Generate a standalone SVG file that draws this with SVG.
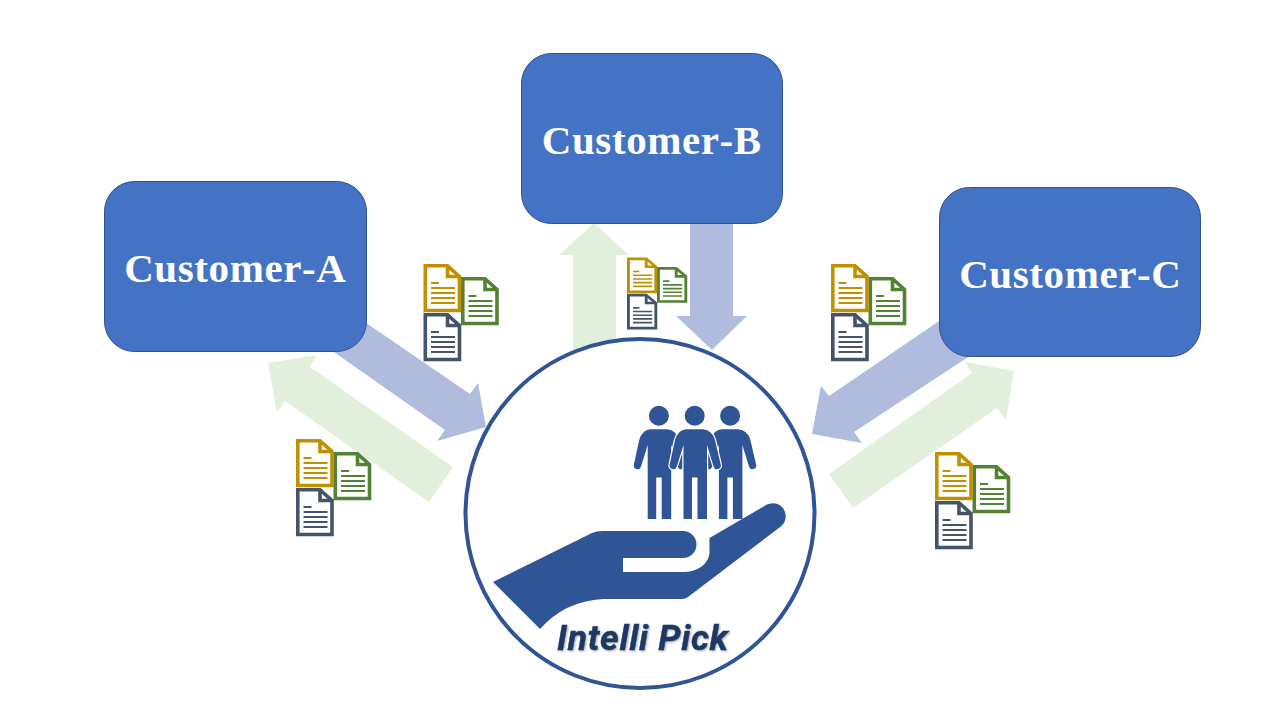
<svg xmlns="http://www.w3.org/2000/svg" xmlns:xlink="http://www.w3.org/1999/xlink" width="1280" height="720" viewBox="0 0 1280 720">
<style>
.box{fill:#4472C4;stroke:#2F528F;stroke-width:1}
.lbl{font-family:"Liberation Serif","Times New Roman",serif;font-weight:700;font-size:41px;fill:#fff;text-anchor:middle;font-kerning:none;letter-spacing:0.6px}
.blue{fill:#AFBCDE}
.green{fill:#E2EFDA}
.hand{fill:#2F5597}
.pg{fill:#fff;stroke-width:3.6}
.ln{fill:none;stroke-width:2.2}
.y{stroke:#BF9000}.g{stroke:#548235}.s{stroke:#44546A}
</style>
<defs>
<filter id="sh" x="-5%" y="-20%" width="110%" height="140%"><feDropShadow dx="1" dy="1" stdDeviation="1" flood-color="#000" flood-opacity="0.35"/></filter>
<g id="doc">
<path class="pg" d="M1.800 1.800H24L36 12.500V46.500H1.800Z"/>
<path class="pg" d="M24 1.800V12.500H36" style="fill:none"/>
<path class="ln" d="M7.500 19H15.500M7.500 24H31.500M7.500 29H31.500M7.500 34H31.500M7.500 39H31.500"/>
</g>
<g id="docs">
<use xlink:href="#doc" href="#doc" class="g" x="37.500" y="13"/>
<use xlink:href="#doc" href="#doc" class="s" x="0" y="49"/>
<use xlink:href="#doc" href="#doc" class="y" x="0" y="0"/>
</g>
<g id="person">
<circle cx="694.700" cy="415.700" r="10"/>
<path d="M686 429.300H703Q712 430 715 440L720.700 464.500A3.600 3.600 0 0 1 713.600 466.500L707 445V519H697.500V477.500H692V519H683.500V445L676.800 466.500A3.600 3.600 0 0 1 669.700 464.500L675 440Q678 430 686 429.300Z" stroke="#fff" stroke-width="2.500" paint-order="stroke"/>
</g>
</defs>
<rect width="1280" height="720" fill="#fff"/>
<g id="connectors">
<polygon id="a-in" class="blue" points="337,303 470,394 478,383 486,427 437,441 445,430 304,331"/>
<polygon id="a-out" class="green" points="453,467 429,502 285,401 277,413 268,363 317,355 310,367"/>
<polygon id="b-out" class="green" points="573,380 573,255 559,255 594,223 629,255 616,255 616,380"/>
<polygon id="b-in" class="blue" points="690,215 733,215 733,316 747,316 712,350 676,316 690,316"/>
<polygon id="c-in" class="blue" points="970,300 829,396 821,386 812,434 862,443 854,432 991,342"/>
<polygon id="c-out" class="green" points="829,474 853,508 997,408 1006,420 1014,371 965,362 972,373"/>
</g>
<g id="customer-a"><rect class="box" x="104.500" y="181.500" width="262" height="170" rx="30"/><text class="lbl" x="235.300" y="281.500">Customer-A</text></g>
<g id="customer-b"><rect class="box" x="521.500" y="53.500" width="261" height="170" rx="30"/><text class="lbl" x="651.800" y="153.500">Customer-B</text></g>
<g id="customer-c"><rect class="box" x="939.500" y="187.500" width="261" height="169" rx="30"/><text class="lbl" x="1070.300" y="287.500">Customer-C</text></g>
<g id="docs-1"><use xlink:href="#docs" href="#docs" transform="translate(423.500 264)"/></g>
<g id="docs-2"><use xlink:href="#docs" href="#docs" transform="translate(296 439)"/></g>
<g id="docs-3"><use xlink:href="#docs" href="#docs" transform="translate(627 257.500) scale(0.8 0.74)"/></g>
<g id="docs-4"><use xlink:href="#docs" href="#docs" transform="translate(831 264)"/></g>
<g id="docs-5"><use xlink:href="#docs" href="#docs" transform="translate(935 452)"/></g>
<g id="intelli-pick">
<circle cx="640" cy="513.500" r="174.500" fill="#fff" stroke="#2F5597" stroke-width="4"/>
<g class="hand">
<use xlink:href="#person" href="#person" x="-35.800"/>
<use xlink:href="#person" href="#person" x="35.400"/>
<use xlink:href="#person" href="#person"/>
<path d="M493 582L592 533Q597 531 602 531H683A13.500 13.500 0 0 1 683 558H623V572H683A26 20 0 0 0 709.500 553V538L766.500 504.800A13 13 0 0 1 780.800 526.400L688 597Q685 599 682 599H603Q565 601 540 629Z"/>
</g>
<text x="557" y="650" font-family="Roboto,'Liberation Sans',sans-serif" font-weight="700" font-style="italic" font-size="35.500" fill="#1F3864" stroke="#1F3864" stroke-width="0.4" textLength="171" lengthAdjust="spacing" filter="url(#sh)">Intelli Pick</text>
</g>
</svg>
